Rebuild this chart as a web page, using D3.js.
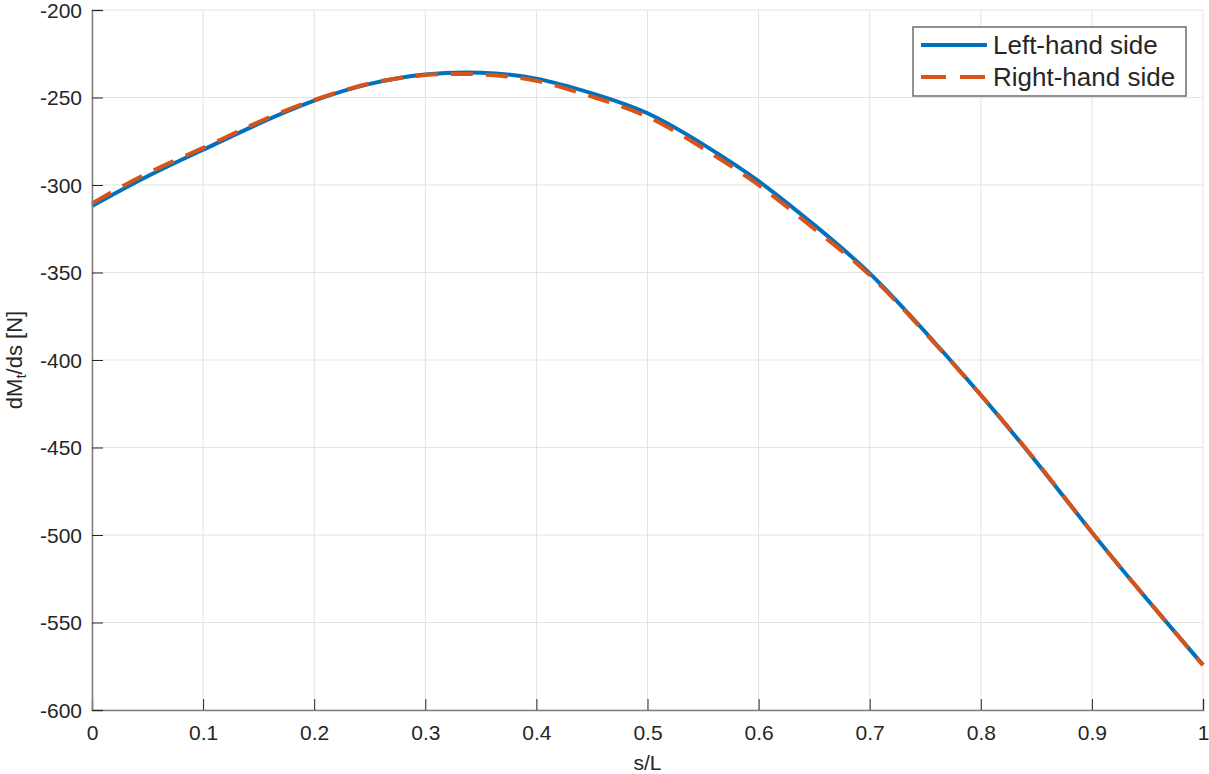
<!DOCTYPE html>
<html>
<head>
<meta charset="utf-8">
<script src="https://cdn.jsdelivr.net/npm/d3@7"></script>
<style>
  body { margin: 0; background: #fff; }
  svg text { font-family: "Liberation Sans", Arial, Helvetica, sans-serif; fill: #262626; }
</style>
</head>
<body>
<div id="chart-area"></div>
<script>
// data
var sValues = [0, 0.05, 0.1, 0.15, 0.2, 0.25, 0.3, 0.35, 0.4, 0.45, 0.5,
               0.55, 0.6, 0.65, 0.7, 0.75, 0.8, 0.85, 0.9, 0.95, 1];
var leftHandSide = [-312, -295, -279.8, -265, -251.8, -242.2, -236.8, -235.8, -239.2, -247.6, -259,
                    -276.8, -297.8, -322.8, -350.5, -384, -420, -458.3, -498.5, -537, -574.3];
var rightHandSide = [-310.5, -293.3, -278.8, -264, -251.4, -242, -237.2, -236.8, -240.5, -249.5, -261,
                     -279, -300, -325, -351.5, -384.5, -420, -458, -498.5, -537, -574.3];
var seriesNames = ["Left-hand side", "Right-hand side"];
var xTicks = [0, 0.1, 0.2, 0.3, 0.4, 0.5, 0.6, 0.7, 0.8, 0.9, 1];
var yTicks = [-600, -550, -500, -450, -400, -350, -300, -250, -200];

// margins
var margin = { left: 92, right: 6, top: 10, bottom: 64 };
var W = 1209, H = 774;
var width = W - margin.left - margin.right;
var height = H - margin.top - margin.bottom;

var svg = d3.select("#chart-area").append("svg")
  .attr("width", W)
  .attr("height", H);

var g = svg.append("g")
  .attr("transform", "translate(" + margin.left + "," + margin.top + ")");

var x = d3.scaleLinear().domain([0, 1]).range([0, width]);
var y = d3.scaleLinear().domain([-600, -200]).range([height, 0]);

// grid
g.append("g").selectAll("line").data(xTicks).enter().append("line")
  .attr("x1", d => x(d)).attr("x2", d => x(d))
  .attr("y1", 0).attr("y2", height)
  .attr("stroke", "#e3e3e3").attr("stroke-width", 1);
g.append("g").selectAll("line").data(yTicks).enter().append("line")
  .attr("y1", d => y(d)).attr("y2", d => y(d))
  .attr("x1", 0).attr("x2", width)
  .attr("stroke", "#e3e3e3").attr("stroke-width", 1);

// lines
var rows = sValues.map((s, i) => ({ s: s, l: leftHandSide[i], r: rightHandSide[i] }));
var lineL = d3.line().x(d => x(d.s)).y(d => y(d.l)).curve(d3.curveNatural);
var lineR = d3.line().x(d => x(d.s)).y(d => y(d.r)).curve(d3.curveNatural);

g.append("path").datum(rows)
  .attr("d", lineL)
  .attr("fill", "none").attr("stroke", "#0072BD").attr("stroke-width", 4);
g.append("path").datum(rows)
  .attr("d", lineR)
  .attr("fill", "none").attr("stroke", "#D95319").attr("stroke-width", 4)
  .attr("stroke-dasharray", "22,13");

// axes (plain hyphen for negatives, like the original)
var fmt = d => String(d);
var xAxisCall = d3.axisBottom(x).tickValues(xTicks).tickSize(-11).tickPadding(15).tickFormat(fmt);
var yAxisCall = d3.axisLeft(y).tickValues(yTicks).tickSize(-11).tickPadding(10).tickFormat(fmt);

var xAxis = g.append("g").attr("transform", "translate(0," + height + ")").call(xAxisCall);
var yAxis = g.append("g").call(yAxisCall);

[xAxis, yAxis].forEach(a => {
  a.select(".domain").attr("stroke", "#808080").attr("stroke-width", 1.5);
  a.selectAll(".tick line").attr("stroke", "#262626").attr("stroke-width", 1);
  a.selectAll(".tick text")
    .attr("fill", "#262626")
    .style("font-size", "21px")
    .style("font-family", "'Liberation Sans', Arial, sans-serif");
});
yAxis.selectAll(".tick text").attr("dy", "0.35em");

// axis labels
svg.append("text")
  .attr("x", margin.left + width / 2)
  .attr("y", 770)
  .attr("text-anchor", "middle")
  .style("font-size", "21px")
  .text("s/L");

var yl = svg.append("text")
  .attr("transform", "translate(22," + (margin.top + height / 2) + ") rotate(-90)")
  .attr("text-anchor", "middle")
  .style("font-size", "22px");
yl.append("tspan").text("dM");
yl.append("tspan").attr("baseline-shift", "-25%").style("font-size", "15px").text("t");
yl.append("tspan").text("/ds [N]");

// legend
var leg = svg.append("g").attr("transform", "translate(913,27)");
leg.append("rect")
  .attr("width", 273).attr("height", 69)
  .attr("fill", "#fff").attr("stroke", "#6e6e6e").attr("stroke-width", 1.5);
var legColors = ["#0072BD", "#D95319"];
var legDash = [null, "25,14"];
seriesNames.forEach((name, i) => {
  var yy = 18 + i * 32;
  leg.append("line")
    .attr("x1", 8).attr("x2", 74).attr("y1", yy).attr("y2", yy)
    .attr("stroke", legColors[i]).attr("stroke-width", 4)
    .attr("stroke-dasharray", legDash[i]);
  leg.append("text")
    .attr("x", 80).attr("y", yy + 9)
    .style("font-size", "26px")
    .text(name);
});
</script>
</body>
</html>
